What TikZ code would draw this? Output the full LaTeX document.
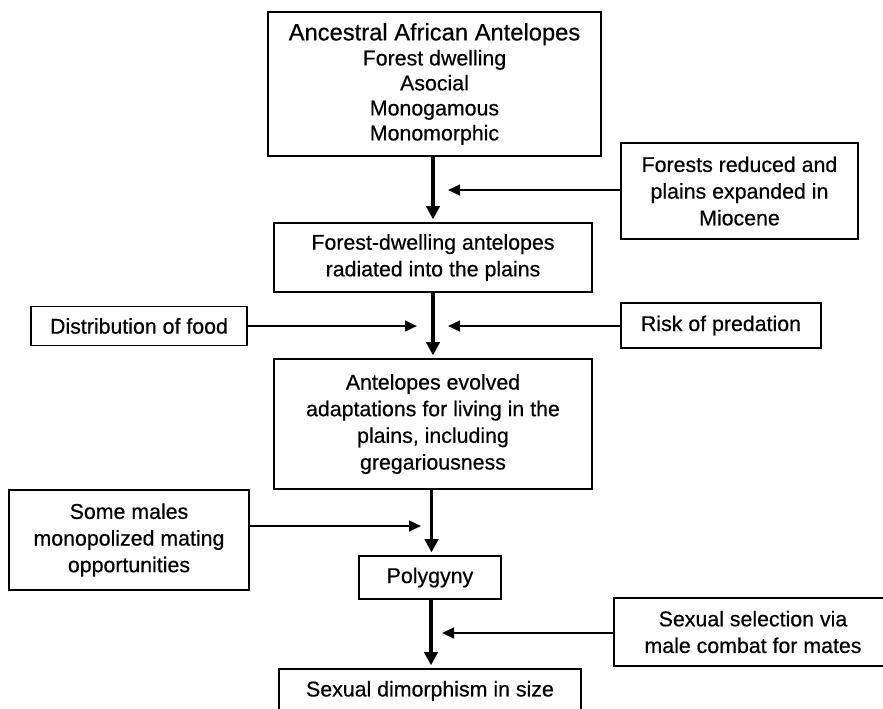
\documentclass[tikz,border=0pt]{standalone}
\usepackage{fontspec}
\setmainfont{Liberation Sans}[FakeBold=0.5]
\usetikzlibrary{arrows.meta}

\begin{document}
\begin{tikzpicture}[x=0.75pt,y=-0.75pt,
  box/.style={draw, line width=1.4pt, align=center, inner sep=0pt,
    font=\fontsize{16}{20}\selectfont},
  mainarrow/.style={line width=2.7pt, -{Triangle[length=10pt,width=10pt]}, shorten >=2pt},
  sidearrow/.style={line width=1.8pt, -{Triangle[length=9pt,width=8pt]}}]

  \useasboundingbox (0,0) rectangle (883,708);
  \clip (0,0) rectangle (883,708);

  % main chain
  \node[box, minimum width=333*0.75pt, minimum height=144*0.75pt,
        font=\fontsize{16}{18.75}\selectfont] (anc) at (434.5,84)
    {{\fontsize{17.8}{18.75}\selectfont Ancestral African Antelopes}\\
     Forest dwelling\\ Asocial\\ Monogamous\\ Monomorphic};
  \node[box, minimum width=318*0.75pt, minimum height=69*0.75pt] (rad) at (433,257.5)
    {Forest-dwelling antelopes\\ radiated into the plains};
  \node[box, minimum width=318*0.75pt, minimum height=130*0.75pt] (adapt) at (433,424)
    {Antelopes evolved\\ adaptations for living in the\\ plains, including\\ gregariousness};
  \node[box, minimum width=142*0.75pt, minimum height=43*0.75pt] (poly) at (430,577.5)
    {Polygyny};
  \node[box, minimum width=302*0.75pt, minimum height=44*0.75pt, anchor=north] (dimo) at (430,668)
    {Sexual dimorphism in size};

  % influencing factors
  \node[box, minimum width=237*0.75pt, minimum height=96*0.75pt] (forests) at (739.5,191)
    {Forests reduced and\\ plains expanded in\\ Miocene};
  \node[box, minimum width=216*0.75pt, minimum height=39*0.75pt] (food) at (139,326)
    {Distribution of food};
  \node[box, minimum width=200*0.75pt, minimum height=45*0.75pt] (risk) at (721,325.5)
    {Risk of predation};
  \node[box, minimum width=240*0.75pt, minimum height=100*0.75pt] (males) at (129,540)
    {Some males\\ monopolized mating\\ opportunities};
  \node[box, minimum width=278*0.75pt, minimum height=68*0.75pt] (sel) at (753,632)
    {Sexual selection via\\ male combat for mates};

  % arrow tips of the side connectors
  \coordinate (tforests) at (448,190);
  \coordinate (tfood) at (417,326);
  \coordinate (trisk) at (448,326);
  \coordinate (tmales) at (421,526);
  \coordinate (tsel) at (442,633);

  % main connectors
  \draw[mainarrow] (anc.south -| rad.north) -- (rad.north);
  \draw[mainarrow] (rad.south) -- (adapt.north);
  \draw[mainarrow] (adapt.south -| 431.5,0) -- (poly.north -| 431.5,0);
  \draw[mainarrow] (poly.south -| 431,0) -- (dimo.north -| 431,0);

  % side connectors
  \draw[sidearrow] (forests.west |- tforests) -- (tforests);
  \draw[sidearrow] (food.east |- tfood) -- (tfood);
  \draw[sidearrow] (risk.west |- trisk) -- (trisk);
  \draw[sidearrow] (males.east |- tmales) -- (tmales);
  \draw[sidearrow] (sel.west |- tsel) -- (tsel);
\end{tikzpicture}
\end{document}
